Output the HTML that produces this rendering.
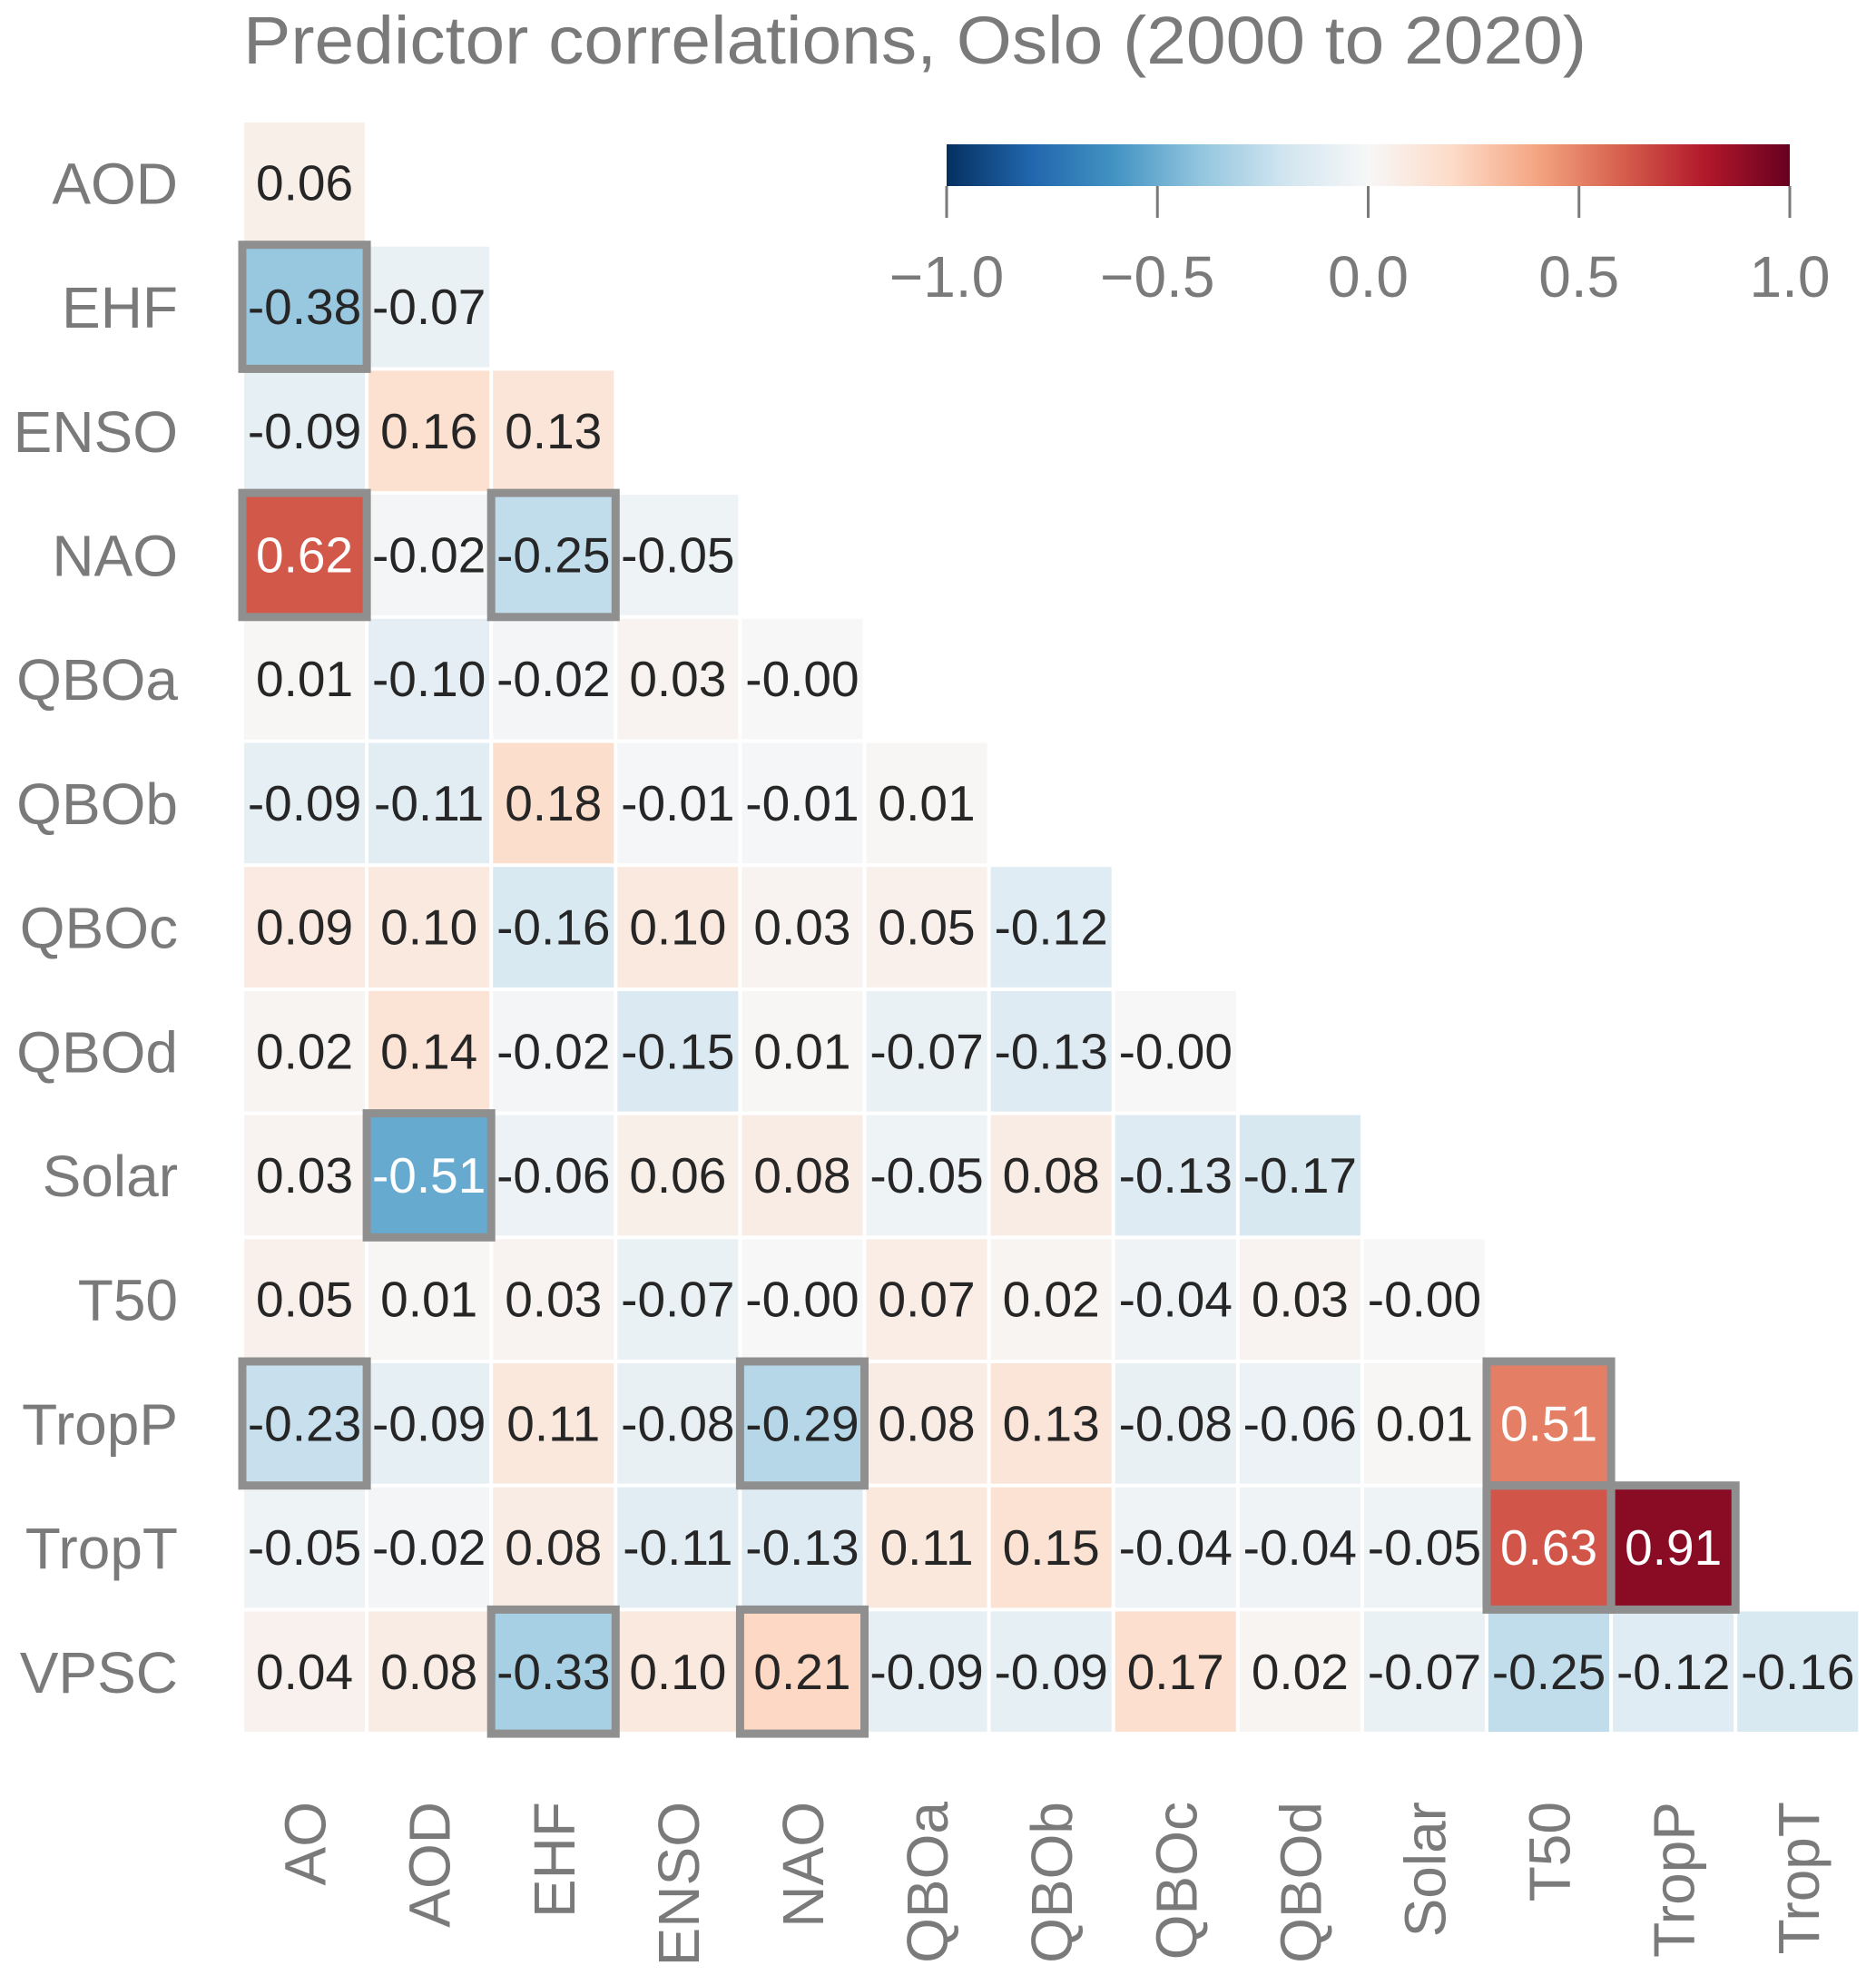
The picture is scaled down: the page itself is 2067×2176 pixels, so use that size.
<!DOCTYPE html>
<html><head><meta charset="utf-8"><style>
html,body{margin:0;padding:0;background:#fff;}
svg{display:block;font-family:"Liberation Sans",sans-serif;}
</style></head><body>
<svg id="chart" width="2067" height="2176" viewBox="0 0 2067 2176" xmlns="http://www.w3.org/2000/svg">
<defs>
<linearGradient id="rdbu" x1="0" x2="1" y1="0" y2="0">
<stop offset="0" stop-color="#053061"/><stop offset="0.1" stop-color="#2166ac"/><stop offset="0.2" stop-color="#4393c3"/><stop offset="0.3" stop-color="#92c5de"/><stop offset="0.4" stop-color="#d1e5f0"/><stop offset="0.5" stop-color="#f7f7f7"/><stop offset="0.6" stop-color="#fddbc7"/><stop offset="0.7" stop-color="#f4a582"/><stop offset="0.8" stop-color="#d6604d"/><stop offset="0.9" stop-color="#b2182b"/><stop offset="1" stop-color="#67001f"/>
</linearGradient>
</defs>
<text x="268" y="70" font-size="74" fill="#7a7a7a" textLength="1480" lengthAdjust="spacingAndGlyphs">Predictor correlations, Oslo (2000 to 2020)</text>
<g id="cells"></g>
<g id="boxes"></g>
<g id="ylabels"></g>
<g id="xlabels"></g>
<g id="cbar">
<rect x="1043" y="159" width="929" height="46" fill="url(#rdbu)"/>
</g>
</svg>
<script>
const rowLabels = ["AOD","EHF","ENSO","NAO","QBOa","QBOb","QBOc","QBOd","Solar","T50","TropP","TropT","VPSC"];
const colLabels = ["AO","AOD","EHF","ENSO","NAO","QBOa","QBOb","QBOc","QBOd","Solar","T50","TropP","TropT"];
const rowAOD = [0.06];
const rowEHF = [-0.38,-0.07];
const rowENSO = [-0.09,0.16,0.13];
const rowNAO = [0.62,-0.02,-0.25,-0.05];
const rowQBOa = [0.01,-0.10,-0.02,0.03,-0.00];
const rowQBOb = [-0.09,-0.11,0.18,-0.01,-0.01,0.01];
const rowQBOc = [0.09,0.10,-0.16,0.10,0.03,0.05,-0.12];
const rowQBOd = [0.02,0.14,-0.02,-0.15,0.01,-0.07,-0.13,-0.00];
const rowSolar = [0.03,-0.51,-0.06,0.06,0.08,-0.05,0.08,-0.13,-0.17];
const rowT50 = [0.05,0.01,0.03,-0.07,-0.00,0.07,0.02,-0.04,0.03,-0.00];
const rowTropP = [-0.23,-0.09,0.11,-0.08,-0.29,0.08,0.13,-0.08,-0.06,0.01,0.51];
const rowTropT = [-0.05,-0.02,0.08,-0.11,-0.13,0.11,0.15,-0.04,-0.04,-0.05,0.63,0.91];
const rowVPSC = [0.04,0.08,-0.33,0.10,0.21,-0.09,-0.09,0.17,0.02,-0.07,-0.25,-0.12,-0.16];
const highlightRows = [1,3,3,8,10,10,10,11,11,12,12];
const highlightCols = [0,0,2,1,0,4,10,10,11,2,4];
const cbarTicks = [-1.0,-0.5,0.0,0.5,1.0];
const cbarTickLabels = ["\u22121.0","\u22120.5","0.0","0.5","1.0"];

const matrix = [rowAOD,rowEHF,rowENSO,rowNAO,rowQBOa,rowQBOb,rowQBOc,rowQBOd,rowSolar,rowT50,rowTropP,rowTropT,rowVPSC];
const NS="http://www.w3.org/2000/svg";
const X0=267, Y0=133, CW=137.1, CH=136.7, GAP=4;
const xScale = i => X0 + i*CW;
const yScale = j => Y0 + j*CH;
const CB0=1043, CB1=1972;
const cbScale = v => CB0 + (v+1)/2*(CB1-CB0);
const stops=["#053061","#2166ac","#4393c3","#92c5de","#d1e5f0","#f7f7f7","#fddbc7","#f4a582","#d6604d","#b2182b","#67001f"].map(h=>[parseInt(h.slice(1,3),16),parseInt(h.slice(3,5),16),parseInt(h.slice(5,7),16)]);
function color(v){
  let t=(v+1)/2*10; t=Math.max(0,Math.min(10,t));
  let i=Math.min(9,Math.floor(t)), f=t-i;
  const a=stops[i], b=stops[i+1];
  return "rgb("+a.map((c,k)=>Math.round(c+(b[k]-c)*f)).join(",")+")";
}
function fmt(v){ const s=v.toFixed(2); return (Object.is(v,-0)||(v<0&&s[0]!=="-"))?"-"+s:s; }
function mk(tag,attrs,parent){const e=document.createElementNS(NS,tag);for(const k in attrs)e.setAttribute(k,attrs[k]);parent.appendChild(e);return e;}
const cells=document.getElementById("cells");
matrix.forEach((row,j)=>{
  row.forEach((v,i)=>{
    const r=mk("rect",{x:xScale(i)+GAP/2,y:yScale(j)+GAP/2,width:CW-GAP,height:CH-GAP,fill:color(v)},cells);
    
    
    const t=mk("text",{x:xScale(i)+CW/2,y:yScale(j)+CH/2+19,"text-anchor":"middle","font-size":"55",fill:Math.abs(v)>=0.5?"#ffffff":"#262626"},cells);
    
    
    t.textContent=fmt(v);
  });
});
const boxes=document.getElementById("boxes");
highlightRows.forEach((j,k)=>{
  const i=highlightCols[k];
  const b=mk("rect",{x:xScale(i),y:yScale(j),width:CW,height:CH,fill:"none",stroke:"#8f8f8f","stroke-width":"9"},boxes);
  
  
});
const yl=document.getElementById("ylabels");
rowLabels.forEach((lab,j)=>{
  const t=mk("text",{x:196,y:yScale(j)+CH/2+23,"text-anchor":"end","font-size":"64",fill:"#7a7a7a"},yl);
  
  
  t.textContent=lab;
});
const xl=document.getElementById("xlabels");
colLabels.forEach((lab,i)=>{
  const cx=xScale(i)+CW/2+23, cy=1985;
  const t=mk("text",{x:cx,y:cy,"text-anchor":"end","font-size":"64",fill:"#7a7a7a",transform:"rotate(-90 "+cx+" "+cy+")"},xl);
  
  
  t.textContent=lab;
});
const cb=document.getElementById("cbar");
cbarTicks.forEach((v,k)=>{
  const x=cbScale(v);
  const l=mk("line",{x1:x,x2:x,y1:205,y2:240,stroke:"#7a7a7a","stroke-width":"3"},cb);
  
  
  const t=mk("text",{x:x,y:327,"text-anchor":"middle","font-size":"64",fill:"#7a7a7a"},cb);
  
  
  t.textContent=cbarTickLabels[k];
});
</script>
</body></html>
